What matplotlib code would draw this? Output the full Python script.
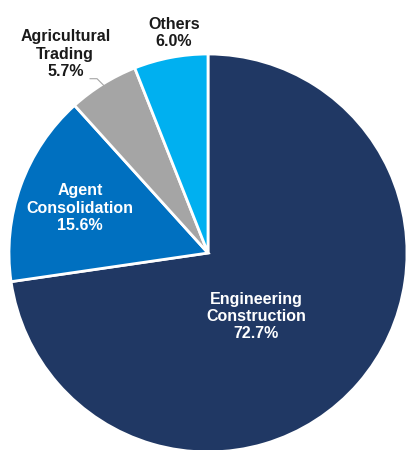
import numpy as np
import matplotlib
matplotlib.use('Agg')
import matplotlib.pyplot as plt

# Revenue mix data
segments = ['Engineering\nConstruction', 'Agent\nConsolidation', 'Agricultural\nTrading', 'Others']
shares = [72.7, 15.6, 5.7, 6.0]
colors = ['#203864', '#0070C0', '#A5A5A5', '#00B0F0']

plt.rcParams['font.family'] = ['Liberation Sans', 'DejaVu Sans']
plt.rcParams['savefig.bbox'] = 'standard'

fig = plt.figure(figsize=(4.07, 4.5), dpi=100)
# pie of radius 1 -> ~199 px, centre at (208, 253) px from top-left
ax = fig.add_axes([9 / 407, -2 / 450, 398 / 407, 398 / 450])
wedges, _ = ax.pie(shares, colors=colors, startangle=90, counterclock=False,
                   radius=1.0, wedgeprops=dict(edgecolor='white', linewidth=2))
ax.set_xlim(-1, 1)
ax.set_ylim(-1, 1)
ax.set_aspect('equal')
ax.axis('off')

# label placement: (radius, angle offset from wedge middle, colour)
label_pos = [(0.40, -12, 'white'), (0.68, 0.5, 'white'), (1.23, 3.8, '#1a1a1a'), (1.12, -2, '#1a1a1a')]
for w, name, val, (r, off, col) in zip(wedges, segments, shares, label_pos):
    mid = np.deg2rad((w.theta1 + w.theta2) / 2 + off)
    ax.text(r * np.cos(mid), r * np.sin(mid), f'{name}\n{val:.1f}%', ha='center', va='center',
            fontsize=11.5, fontweight='bold', color=col, linespacing=1.2, clip_on=False)

# leader line for Agricultural Trading
w = wedges[2]
mid = np.deg2rad((w.theta1 + w.theta2) / 2)
x0, y0 = 0.99 * np.cos(mid), 0.99 * np.sin(mid)
ax.plot([x0, x0 - 0.035, x0 - 0.07], [y0, y0 + 0.035, y0 + 0.035], color='#A5A5A5', lw=0.8, clip_on=False)

fig.savefig('out.png', dpi=100)
